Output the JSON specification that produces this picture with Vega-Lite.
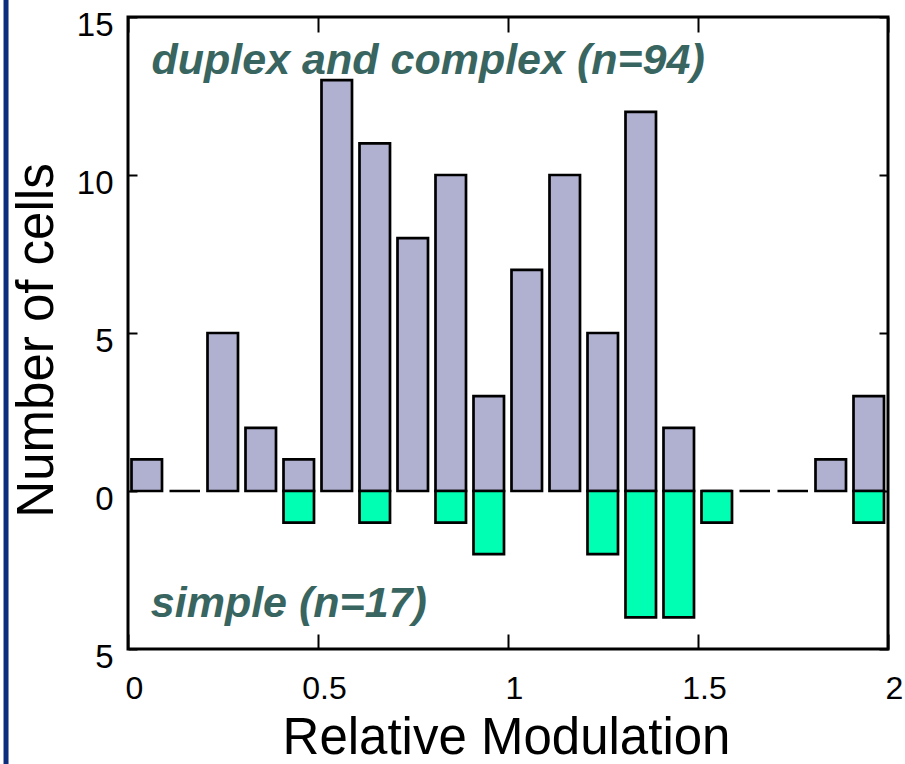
{
  "$schema": "https://vega.github.io/schema/vega-lite/v6.json",
  "autosize": "none",
  "width": 760,
  "height": 632,
  "padding": {"top": 17, "left": 128, "right": 18, "bottom": 115},
  "background": "white",
  "config": {
    "view": {"stroke": "black", "strokeWidth": 3},
    "axis": {"grid": false, "domain": false, "labelFont": "Liberation Sans", "titleFont": "Liberation Sans", "labelColor": "black", "titleColor": "black", "tickColor": "black", "tickWidth": 2, "titleFontWeight": "normal", "labelFlush": false, "labelOverlap": false, "labelBound": false}
  },
  "datasets": {
    "bins": [
      {"lo": 0.0, "hi": 0.1, "complex": 1, "simple": 0},
      {"lo": 0.1, "hi": 0.2, "complex": 0, "simple": 0},
      {"lo": 0.2, "hi": 0.3, "complex": 5, "simple": 0},
      {"lo": 0.3, "hi": 0.4, "complex": 2, "simple": 0},
      {"lo": 0.4, "hi": 0.5, "complex": 1, "simple": -1},
      {"lo": 0.5, "hi": 0.6, "complex": 13, "simple": 0},
      {"lo": 0.6, "hi": 0.7, "complex": 11, "simple": -1},
      {"lo": 0.7, "hi": 0.8, "complex": 8, "simple": 0},
      {"lo": 0.8, "hi": 0.9, "complex": 10, "simple": -1},
      {"lo": 0.9, "hi": 1.0, "complex": 3, "simple": -2},
      {"lo": 1.0, "hi": 1.1, "complex": 7, "simple": 0},
      {"lo": 1.1, "hi": 1.2, "complex": 10, "simple": 0},
      {"lo": 1.2, "hi": 1.3, "complex": 5, "simple": -2},
      {"lo": 1.3, "hi": 1.4, "complex": 12, "simple": -4},
      {"lo": 1.4, "hi": 1.5, "complex": 2, "simple": -4},
      {"lo": 1.5, "hi": 1.6, "complex": 0, "simple": -1},
      {"lo": 1.6, "hi": 1.7, "complex": 0, "simple": 0},
      {"lo": 1.7, "hi": 1.8, "complex": 0, "simple": 0},
      {"lo": 1.8, "hi": 1.9, "complex": 1, "simple": 0},
      {"lo": 1.9, "hi": 2.0, "complex": 3, "simple": -1}
    ]
  },
  "resolve": {"axis": {"x": "independent", "y": "independent"}},
  "layer": [
    {
      "data": {"name": "bins"},
      "mark": {"type": "bar", "fill": "#b0b0d0", "stroke": "black", "strokeWidth": 2.7, "xOffset": 3.5, "x2Offset": -4},
      "encoding": {
        "x": {"field": "lo", "type": "quantitative", "scale": {"domain": [0, 2], "nice": false, "zero": false},
          "axis": {"orient": "bottom", "values": [0, 0.5, 1, 1.5, 2], "format": "~g", "tickSize": -15, "labelFontSize": 32, "labelPadding": 64, "labelOffset": 6, "labelBaseline": "alphabetic", "title": "Relative Modulation", "titleFontSize": 51, "titleBaseline": "alphabetic", "titleX": 378, "titleY": 104}},
        "x2": {"field": "hi"},
        "y": {"field": "complex", "type": "quantitative", "scale": {"domain": [-5, 15], "nice": false},
          "axis": {"orient": "left", "values": [-5, 0, 5, 10, 15], "labelExpr": "abs(datum.value)", "tickSize": -9, "labelFontSize": 33, "labelPadding": 24, "labelOffset": 8, "title": "Number of cells", "titleFontSize": 51, "titleBaseline": "alphabetic", "titleAlign": "center", "titleAngle": -90, "titleX": -76, "titleY": 323}},
        "y2": {"datum": 0}
      }
    },
    {
      "data": {"name": "bins"},
      "transform": [{"filter": "datum.simple < 0"}],
      "mark": {"type": "bar", "fill": "#00ffb2", "stroke": "black", "strokeWidth": 2.7, "xOffset": 3.5, "x2Offset": -4},
      "encoding": {
        "x": {"field": "lo", "type": "quantitative", "scale": {"domain": [0, 2], "nice": false, "zero": false},
          "axis": {"orient": "top", "values": [0, 0.5, 1, 1.5, 2], "labels": false, "tickSize": -15, "title": null}},
        "x2": {"field": "hi"},
        "y": {"field": "simple", "type": "quantitative", "scale": {"domain": [-5, 15], "nice": false},
          "axis": {"orient": "right", "values": [-5, 0, 5, 10, 15], "labels": false, "tickSize": -9, "title": null}},
        "y2": {"datum": 0}
      }
    },
    {
      "data": {"values": [{}]},
      "mark": {"type": "text", "text": "duplex and complex (n=94)", "font": "Liberation Sans", "fontSize": 43, "fontWeight": "bold", "fontStyle": "italic", "fill": "#386560", "align": "left", "baseline": "alphabetic"},
      "encoding": {
        "x": {"datum": 0.062, "type": "quantitative", "axis": null},
        "y": {"datum": 13.2, "type": "quantitative", "axis": null}
      }
    },
    {
      "data": {"values": [{}]},
      "mark": {"type": "text", "text": "simple (n=17)", "font": "Liberation Sans", "fontSize": 43, "fontWeight": "bold", "fontStyle": "italic", "fill": "#386560", "align": "left", "baseline": "alphabetic"},
      "encoding": {
        "x": {"datum": 0.06, "type": "quantitative", "axis": null},
        "y": {"datum": -3.98, "type": "quantitative", "axis": null}
      }
    },
    {
      "data": {"values": [{}]},
      "mark": {"type": "rule", "stroke": "#0b2d7c", "strokeWidth": 5, "clip": false},
      "encoding": {
        "x": {"datum": -0.321, "type": "quantitative", "axis": null},
        "y": {"datum": -9, "type": "quantitative", "axis": null},
        "y2": {"datum": 16}
      }
    }
  ]
}
